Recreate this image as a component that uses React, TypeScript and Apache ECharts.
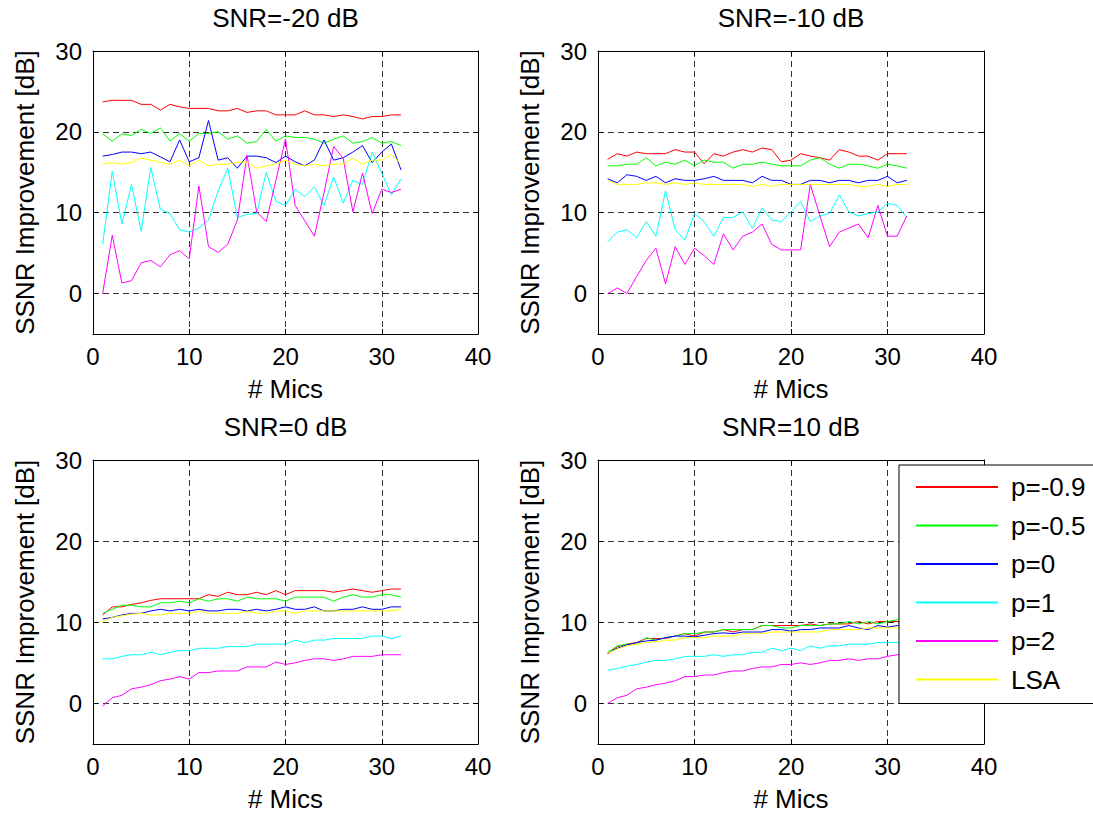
import React, { useEffect, useRef } from "react";
import * as echarts from "echarts";

// ---------------- data ----------------
const mics = [1, 2, 3, 4, 5, 6, 7, 8, 9, 10, 11, 12, 13, 14, 15, 16, 17, 18, 19, 20, 21, 22, 23, 24, 25, 26, 27, 28, 29, 30, 31, 32];
const seriesNames = ["p=-0.9", "p=-0.5", "p=0", "p=1", "p=2", "LSA"];
const seriesColors = ["#ff0000", "#00ff00", "#0000ff", "#00ffff", "#ff00ff", "#ffff00"];
const panelTitles = ["SNR=-20 dB", "SNR=-10 dB", "SNR=0 dB", "SNR=10 dB"];
const xTicks = [0, 10, 20, 30, 40];
const yTicks = [0, 10, 20, 30];
const xLabel = "# Mics";
const yLabel = "SSNR Improvement [dB]";

// SNR = -20 dB
const snrM20_pm09 = [23.7, 23.9, 23.9, 23.9, 23.4, 23.4, 22.7, 23.4, 23.1, 22.9, 22.9, 22.9, 22.6, 22.6, 22.9, 22.4, 22.6, 22.6, 22.1, 22.1, 22.1, 22.6, 22.1, 22.1, 21.9, 22.1, 21.9, 21.6, 21.9, 21.9, 22.1, 22.1];
const snrM20_pm05 = [19.75, 18.85, 19.75, 19.55, 20.3, 19.8, 20.5, 18.85, 19.8, 18.85, 19.8, 19.8, 20.0, 19.1, 19.5, 18.6, 18.8, 20.3, 18.85, 19.5, 19.3, 19.3, 19.1, 18.6, 19.1, 19.5, 18.6, 18.8, 19.3, 18.6, 18.8, 18.3];
const snrM20_p0 = [17.0, 17.2, 17.5, 17.5, 17.3, 17.5, 16.9, 16.3, 19.0, 16.3, 16.8, 21.4, 16.5, 16.8, 15.5, 17.0, 17.0, 16.8, 16.2, 17.0, 16.3, 15.8, 16.5, 19.0, 16.5, 16.8, 17.5, 18.3, 16.2, 17.5, 18.5, 15.3];
const snrM20_p1 = [6.1, 15.1, 8.6, 13.5, 7.7, 15.6, 10.4, 9.9, 7.9, 7.6, 8.1, 9.1, 12.7, 15.5, 9.4, 9.8, 9.9, 15.0, 11.4, 10.9, 12.9, 12.0, 13.2, 10.9, 14.4, 11.2, 14.0, 13.5, 17.5, 14.9, 12.2, 14.2];
const snrM20_p2 = [0.0, 7.2, 1.3, 1.6, 3.8, 4.1, 3.3, 4.8, 5.3, 4.3, 13.3, 5.8, 5.1, 6.1, 9.1, 17.1, 10.1, 8.9, 14.0, 19.1, 10.9, 9.0, 7.1, 12.5, 18.2, 16.7, 10.1, 14.9, 9.9, 12.9, 12.5, 12.9];
const snrM20_lsa = [16.0, 16.2, 16.0, 16.25, 16.75, 16.5, 16.25, 16.0, 16.5, 15.8, 16.5, 15.8, 16.0, 16.0, 16.25, 16.25, 15.5, 15.8, 16.0, 16.5, 16.0, 15.8, 16.0, 15.8, 16.0, 16.0, 16.75, 16.0, 16.5, 16.5, 17.2, 16.0];

// SNR = -10 dB
const snrM10_pm09 = [16.6, 17.3, 17.0, 17.5, 17.3, 17.3, 17.3, 17.8, 17.5, 17.5, 16.05, 17.3, 17.0, 17.5, 17.8, 17.5, 18.0, 17.8, 16.3, 16.5, 17.3, 17.0, 16.8, 16.5, 17.8, 17.5, 17.0, 17.0, 16.5, 17.3, 17.3, 17.3];
const snrM10_pm05 = [15.8, 15.8, 16.0, 16.0, 16.8, 15.8, 16.25, 16.0, 16.5, 15.8, 16.5, 16.25, 16.25, 15.5, 16.0, 16.0, 16.25, 16.0, 15.8, 15.8, 15.8, 16.5, 16.8, 16.0, 15.5, 16.0, 16.0, 15.8, 15.5, 16.0, 15.8, 15.5];
const snrM10_p0 = [14.2, 13.7, 14.7, 14.5, 14.0, 14.5, 13.7, 14.2, 14.0, 14.0, 14.2, 14.5, 14.0, 14.0, 14.0, 13.7, 14.5, 14.0, 14.0, 13.5, 13.5, 14.0, 14.0, 13.7, 14.0, 14.0, 13.7, 14.0, 14.0, 14.5, 13.7, 14.0];
const snrM10_p1 = [6.4, 7.6, 7.9, 6.9, 8.9, 7.1, 12.7, 7.9, 6.6, 9.9, 8.9, 7.1, 9.4, 9.4, 10.1, 8.1, 10.6, 9.1, 8.9, 10.1, 11.4, 8.9, 9.6, 9.9, 12.2, 10.1, 9.6, 9.9, 10.1, 11.15, 10.9, 9.4];
const snrM10_p2 = [0.0, 0.7, 0.0, 2.1, 4.1, 5.6, 1.2, 5.8, 3.6, 5.6, 4.7, 3.6, 7.4, 5.4, 7.1, 7.6, 8.6, 6.1, 5.4, 5.4, 5.4, 13.5, 9.6, 5.8, 7.6, 8.1, 8.6, 6.9, 10.9, 7.1, 7.1, 9.6];
const snrM10_lsa = [14.0, 13.5, 13.5, 13.5, 13.7, 13.7, 13.5, 13.7, 13.5, 13.7, 13.5, 13.5, 13.5, 13.5, 13.5, 13.25, 13.5, 13.25, 13.5, 13.5, 13.5, 13.5, 13.5, 13.5, 13.5, 13.5, 13.25, 13.25, 13.5, 13.25, 13.5, 13.5];

// SNR = 0 dB
const snr0_pm09 = [10.9, 11.9, 11.9, 12.2, 12.4, 12.7, 12.9, 12.9, 12.9, 12.9, 12.9, 13.4, 13.2, 13.7, 13.4, 13.4, 13.7, 13.4, 13.9, 13.4, 13.9, 13.9, 13.9, 13.9, 13.7, 13.9, 14.1, 13.9, 13.7, 13.9, 14.1, 14.1];
const snr0_pm05 = [11.1, 11.6, 12.1, 12.1, 11.9, 11.9, 12.4, 12.4, 12.6, 12.4, 12.9, 12.6, 12.9, 12.9, 12.6, 13.1, 12.9, 12.9, 12.9, 12.6, 13.1, 13.1, 13.1, 13.1, 12.6, 13.1, 13.4, 13.1, 13.1, 13.4, 13.4, 13.1];
const snr0_p0 = [10.4, 10.6, 10.9, 11.1, 11.1, 11.4, 11.6, 11.4, 11.6, 11.4, 11.6, 11.4, 11.4, 11.6, 11.6, 11.4, 11.6, 11.4, 11.6, 11.9, 11.6, 11.6, 11.9, 11.4, 11.4, 11.6, 11.6, 11.9, 11.6, 11.6, 11.9, 11.9];
const snr0_p1 = [5.5, 5.5, 5.8, 6.0, 6.0, 6.3, 6.0, 6.3, 6.5, 6.5, 6.8, 6.8, 6.8, 7.0, 7.0, 7.0, 7.3, 7.3, 7.3, 7.3, 7.8, 7.5, 7.8, 7.8, 8.0, 8.0, 8.0, 8.0, 8.3, 8.3, 8.0, 8.3];
const snr0_p2 = [-0.3, 0.7, 1.0, 1.8, 2.0, 2.3, 2.8, 3.0, 3.3, 3.0, 3.8, 3.8, 4.0, 4.0, 4.0, 4.5, 4.5, 4.5, 5.1, 4.8, 5.0, 5.3, 5.5, 5.5, 5.3, 5.5, 5.8, 5.8, 5.8, 6.0, 6.0, 6.0];
const snr0_lsa = [10.1, 10.6, 10.8, 11.0, 11.1, 10.9, 10.9, 11.1, 11.1, 11.1, 11.4, 11.1, 11.1, 11.1, 11.1, 11.4, 11.1, 11.1, 11.4, 11.4, 11.1, 11.4, 11.4, 11.4, 11.4, 11.4, 11.4, 11.4, 11.4, 11.4, 11.4, 11.6];

// SNR = 10 dB
const snr10_pm09 = [6.1, 7.0, 7.3, 7.5, 8.0, 8.0, 8.0, 8.3, 8.6, 8.3, 8.8, 8.8, 9.1, 8.8, 9.1, 9.1, 9.6, 9.6, 9.6, 9.6, 9.6, 9.8, 9.6, 9.8, 9.8, 9.8, 10.1, 9.8, 10.1, 10.1, 10.1, 10.0];
const snr10_pm05 = [6.3, 7.1, 7.3, 7.3, 8.1, 7.8, 8.1, 8.3, 8.6, 8.6, 8.8, 8.8, 9.1, 9.1, 9.1, 9.1, 9.6, 9.6, 9.3, 9.3, 9.6, 9.6, 9.6, 9.8, 9.8, 10.1, 9.8, 10.1, 9.8, 10.1, 10.3, 10.2];
const snr10_p0 = [6.2, 6.8, 7.2, 7.5, 7.7, 7.8, 8.1, 8.3, 8.3, 8.2, 8.4, 8.6, 8.7, 8.6, 8.8, 8.8, 8.8, 9.1, 9.1, 8.9, 9.1, 9.1, 9.3, 9.3, 9.3, 9.6, 9.3, 9.1, 9.6, 9.4, 9.6, 9.6];
const snr10_p1 = [4.1, 4.3, 4.6, 4.8, 5.1, 5.3, 5.3, 5.5, 5.8, 5.8, 5.8, 6.0, 5.8, 6.0, 6.0, 6.3, 6.3, 6.8, 6.5, 6.8, 6.5, 7.1, 6.8, 7.1, 7.1, 7.3, 7.3, 7.3, 7.5, 7.5, 7.5, 7.6];
const snr10_p2 = [0.0, 0.7, 1.0, 1.8, 2.0, 2.3, 2.5, 2.8, 3.3, 3.3, 3.5, 3.5, 3.8, 4.0, 4.0, 4.3, 4.5, 4.5, 4.8, 4.8, 5.0, 4.8, 5.0, 5.3, 5.3, 5.5, 5.3, 5.5, 5.5, 5.8, 6.0, 6.1];
const snr10_lsa = [6.2, 6.7, 7.1, 7.3, 7.5, 7.6, 7.8, 7.8, 8.1, 8.1, 8.1, 8.3, 8.3, 8.3, 8.6, 8.6, 8.6, 8.8, 8.8, 8.8, 8.8, 8.8, 8.8, 9.1, 9.1, 9.1, 9.1, 9.3, 9.3, 9.3, 9.3, 9.4];

const panelData = [
  [snrM20_pm09, snrM20_pm05, snrM20_p0, snrM20_p1, snrM20_p2, snrM20_lsa],
  [snrM10_pm09, snrM10_pm05, snrM10_p0, snrM10_p1, snrM10_p2, snrM10_lsa],
  [snr0_pm09, snr0_pm05, snr0_p0, snr0_p1, snr0_p2, snr0_lsa],
  [snr10_pm09, snr10_pm05, snr10_p0, snr10_p1, snr10_p2, snr10_lsa],
];

// ---------------- layout ----------------
const FONT = "'Liberation Sans', Arial, Helvetica, sans-serif";
const gridRects = [
  { left: 93, top: 51, width: 385, height: 283 },
  { left: 598, top: 51, width: 386, height: 283 },
  { left: 93, top: 460, width: 385, height: 284 },
  { left: 598, top: 460, width: 386, height: 284 },
];

function buildOption() {
  const grid = gridRects.map((r) => ({ ...r, show: false }));
  const xAxis: any[] = [];
  const yAxis: any[] = [];
  gridRects.forEach((_, i) => {
    xAxis.push({
      type: "value",
      gridIndex: i,
      min: 0,
      max: 40,
      interval: 10,
      axisLine: { show: true, onZero: false, lineStyle: { color: "#000", width: 1 } },
      axisTick: { show: true, inside: true, length: 5, lineStyle: { color: "#000" } },
      axisLabel: { color: "#000", fontSize: 24, fontFamily: FONT, margin: 10, customValues: xTicks },
      splitLine: { show: true, lineStyle: { color: "#333", width: 1, type: [6, 4] } },
      name: xLabel,
      nameLocation: "middle",
      nameGap: 42,
      nameTextStyle: { color: "#000", fontSize: 26, fontFamily: FONT },
    });
  });
  gridRects.forEach((_, i) => {
    xAxis.push({
      type: "value",
      gridIndex: i,
      position: "top",
      min: 0,
      max: 40,
      interval: 10,
      axisLine: { show: true, onZero: false, lineStyle: { color: "#000", width: 1 } },
      axisTick: { show: true, inside: true, length: 5, lineStyle: { color: "#000" } },
      axisLabel: { show: false },
      splitLine: { show: false },
      name: panelTitles[i],
      nameLocation: "middle",
      nameGap: 20,
      nameTextStyle: { color: "#000", fontSize: 26, fontFamily: FONT },
    });
  });
  gridRects.forEach((_, i) => {
    yAxis.push({
      type: "value",
      gridIndex: i,
      min: -5,
      max: 30,
      axisLine: { show: true, onZero: false, lineStyle: { color: "#000", width: 1 } },
      axisTick: { show: true, inside: true, length: 5, lineStyle: { color: "#000" }, customValues: yTicks },
      axisLabel: { color: "#000", fontSize: 24, fontFamily: FONT, margin: 11, customValues: yTicks },
      splitLine: { show: true, lineStyle: { color: "#333", width: 1, type: [6, 4] } },
      name: yLabel,
      nameLocation: "middle",
      nameRotate: 90,
      nameGap: 55,
      nameTextStyle: { color: "#000", fontSize: 26, fontFamily: FONT },
    });
  });
  gridRects.forEach((_, i) => {
    yAxis.push({
      type: "value",
      gridIndex: i,
      position: "right",
      min: -5,
      max: 30,
      axisLine: { show: true, onZero: false, lineStyle: { color: "#000", width: 1 } },
      axisTick: { show: true, inside: true, length: 5, lineStyle: { color: "#000" }, customValues: yTicks },
      axisLabel: { show: false, customValues: yTicks },
      splitLine: { show: false },
    });
  });

  const series: any[] = [];
  panelData.forEach((lines, gi) => {
    lines.forEach((vals, si) => {
      series.push({
        type: "line",
        name: seriesNames[si],
        xAxisIndex: gi,
        yAxisIndex: gi,
        data: mics.map((m, k) => [m, vals[k]]),
        showSymbol: false,
        symbol: "none",
        itemStyle: { color: seriesColors[si] },
        lineStyle: { color: seriesColors[si], width: 1 },
        emphasis: { disabled: true },
        z: 3,
      });
    });
  });

  return {
    animation: false,
    backgroundColor: "#fff",
    textStyle: { fontFamily: FONT },
    grid,
    xAxis,
    yAxis,
    series,
    legend: {
      data: seriesNames,
      orient: "vertical",
      left: 899,
      top: 465,
      backgroundColor: "#fff",
      borderColor: "#000",
      borderWidth: 1,
      borderRadius: 0,
      padding: [9, 12, 11, 17],
      itemWidth: 82,
      itemHeight: 2,
      itemGap: 12.5,
      icon: "rect",
      selectedMode: false,
      textStyle: { color: "#000", fontSize: 26, fontFamily: FONT, padding: [0, 0, 0, 8] },
      z: 10,
    },
  };
}

export default function App() {
  const ref = useRef<HTMLDivElement>(null);
  useEffect(() => {
    if (!ref.current) return;
    const chart = echarts.init(ref.current, undefined, { renderer: "svg" });
    chart.setOption(buildOption() as any);
    return () => chart.dispose();
  }, []);
  return (
    <div
      ref={ref}
      style={{ position: "fixed", left: 0, top: 0, width: 1093, height: 813, background: "#fff" }}
    />
  );
}
